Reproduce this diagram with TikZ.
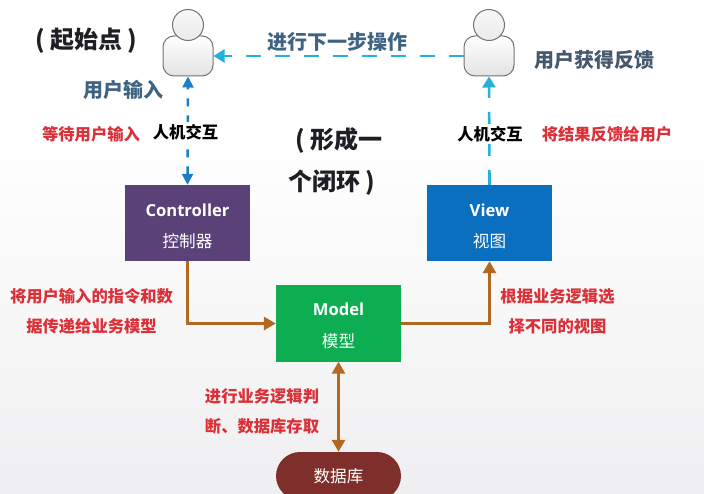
\documentclass[tikz,border=0pt]{standalone}
\usepackage{fontspec}
\setmainfont{Noto Sans CJK SC}
\newfontfamily\latinf{Open Sans}
\usetikzlibrary{arrows.meta,shapes.misc,positioning}
\definecolor{cPurple}{HTML}{5A4278}
\definecolor{cBlue}{HTML}{0B6FC0}
\definecolor{cGreen}{HTML}{0DAE52}
\definecolor{cBrown}{HTML}{7F2F2B}
\definecolor{cOrange}{HTML}{B4671F}
\definecolor{cCyan}{HTML}{22B2DC}
\definecolor{cArrowBlue}{HTML}{1A7FC6}
\definecolor{cRed}{HTML}{DC3038}
\definecolor{cSlate}{HTML}{3F6483}
\definecolor{cSlateDark}{HTML}{46586E}
\definecolor{cDark}{HTML}{1E1E24}
\definecolor{cBgEnd}{HTML}{EFEFF1}
\tikzset{
  box/.style={draw=none,minimum width=125pt,minimum height=76pt,inner sep=0pt,text=white,align=center,
    font=\fontsize{16.6}{31.5}\selectfont},
  redlabel/.style={text=cRed,align=center,inner sep=0pt,font=\fontsize{16.3}{30}\selectfont\bfseries},
  iact/.style={text=black,inner sep=2pt,fill=white,font=\fontsize{16.3}{20}\selectfont\bfseries},
  bigblack/.style={text=cDark,inner sep=0pt,anchor=west,font=\fontsize{24}{28}\selectfont\bfseries},
  slate/.style={text=cSlate,inner sep=0pt,font=\fontsize{20}{24}\selectfont\bfseries},
  body/.style={draw=black!55,line width=1pt,rounded corners=11pt,top color=white,bottom color=black!11,
    minimum width=50pt,minimum height=40pt,inner sep=0pt},
  head/.style={circle,draw=black!55,line width=1pt,top color=black!3,bottom color=black!8,
    minimum size=31pt,inner sep=0pt},
  dashcyan/.style={draw=cCyan,line width=2.6pt,dash pattern=on 15pt off 14pt,-{Triangle[length=11pt,width=13pt]}},
  dashblue/.style={draw=cArrowBlue,line width=2.4pt,dash pattern=on 8pt off 9pt,
    {Triangle[length=11pt,width=11pt]}-{Triangle[length=11pt,width=11pt]}},
  solidorange/.style={draw=cOrange,line width=2.8pt,-{Triangle[length=12pt,width=13pt]}},
}
\begin{document}
\begin{tikzpicture}[x=1pt,y=-1pt]
\useasboundingbox (0,0) rectangle (704,494);
\clip (0,0) rectangle (704,494);
\fill[white] (0,0) rectangle (704,130);
\shade[top color=white,bottom color=cBgEnd] (0,130) rectangle (704,494);

% users
\node[body] (ubodyL) at (188,56) {};
\node[head] (uheadL) at (188,25) {};
\node[body] (ubodyR) at (489,56) {};
\node[head] (uheadR) at (489,25) {};

% boxes
\node[box,fill=cPurple] (ctrl) at (187.5,223) {\rule{0pt}{19pt}{\latinf\bfseries Controller}\\控制器};
\node[box,fill=cBlue] (view) at (489.5,223) {\rule{0pt}{19pt}{\latinf\bfseries View}\\视图};
\node[box,fill=cGreen] (model) at (338.5,323.5) {\rule{0pt}{17pt}{\latinf\bfseries Model}\\模型};
\node[rounded rectangle,fill=cBrown,minimum width=125pt,minimum height=48pt,inner sep=0pt,text=white,
  font=\fontsize{16.6}{20}\selectfont] (db) at (338.5,476) {数据库};

% connectors
\draw[dashcyan] (ubodyR.west) -- (ubodyL.east) coordinate[midway] (hmid);
\node[text=cSlate,fill=white,inner sep=2pt,font=\fontsize{20}{24}\selectfont\bfseries] (next) at (337,42) {进行下一步操作};
\draw[dashblue] (ctrl.north) -- (ubodyL.south);
\node[iact] (iactL) at (185.5,132) {人机交互};
\draw[dashcyan] (view.north) -- (ubodyR.south);
\node[iact] (iactR) at (490,134) {人机交互};
\draw[solidorange] (ctrl.south) |- (model.west);
\draw[solidorange] (model.east) -| (view.south);
\draw[solidorange,{Triangle[length=12pt,width=13pt]}-{Triangle[length=12pt,width=13pt]}] (model.south) -- (db.north);

% labels
\node[bigblack] (start) at (35,41) {( 起始点 )};
\node[bigblack] (loop1) at (295,140) {( 形成一};
\node[bigblack] (loop2) at (288,183) {个闭环 )};
\node[slate] (uinput) at (123,90) {用户输入};
\node[slate,text=cSlateDark] (ufb) at (594.5,60) {用户获得反馈};
\node[redlabel] (wait) at (91,134) {等待用户输入};
\node[redlabel] (fb) at (607,134) {将结果反馈给用户};
\node[redlabel] (l1) at (91.5,311) {将用户输入的指令和数\\据传递给业务模型};
\node[redlabel] (l2) at (557.5,311) {根据业务逻辑选\\择不同的视图};
\node[redlabel] (l3) at (262,411) {进行业务逻辑判\\断、数据库存取};
\end{tikzpicture}
\end{document}
